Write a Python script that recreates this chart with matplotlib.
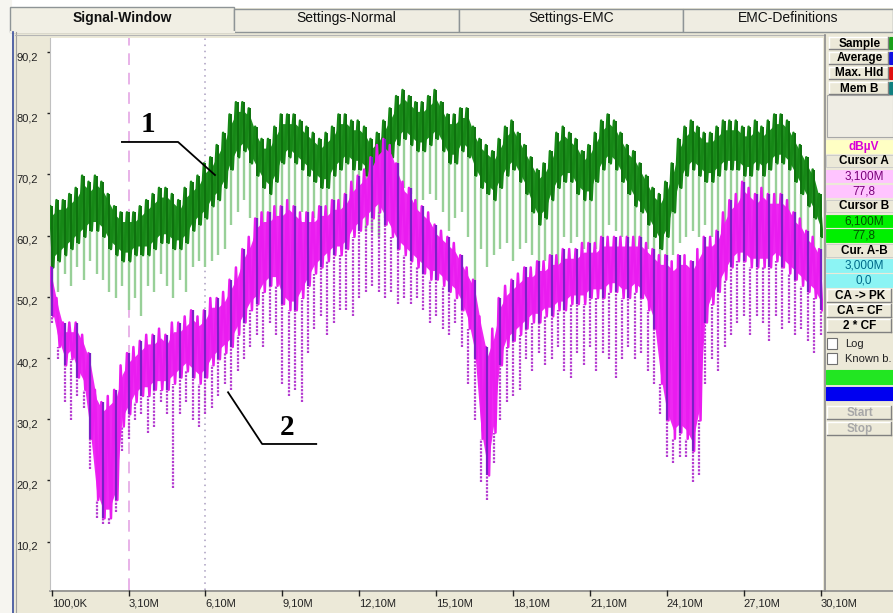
import numpy as np
import matplotlib.pyplot as plt
from matplotlib.patches import Rectangle

plt.rcParams['font.family'] = ['Liberation Sans', 'DejaVu Sans']

# sweep 100 kHz ... 30.1 MHz, 121 bins of 250 kHz
f_start, f_stop, n_bins = 0.1, 30.1, 121
freq = np.linspace(f_start, f_stop, n_bins)

# trace 1 (green): top / bottom of the dense band and tips of the dips, dBuV
green_hi = np.array([
    65, 66, 66, 67, 68, 70, 69, 70, 69, 67,
    65, 64, 64, 64, 65, 66, 67, 68, 68, 67,
    66, 68, 69, 70, 72, 73, 75, 77, 80, 82,
    82, 81, 78, 76, 76, 78, 80, 80, 80, 79,
    78, 77, 76, 77, 78, 80, 80, 79, 79, 78,
    76, 77, 79, 81, 83, 84, 83, 82, 82, 83,
    84, 82, 80, 80, 81, 81, 78, 76, 75, 74,
    76, 78, 79, 77, 75, 73, 71, 72, 74, 77,
    78, 77, 76, 74, 75, 77, 79, 80, 79, 77,
    75, 74, 72, 70, 68, 67, 69, 72, 76, 78,
    79, 78, 77, 77, 78, 79, 79, 79, 78, 78,
    79, 78, 79, 80, 80, 79, 77, 75, 73, 71, 67])
green_lo = np.array([
    55, 56, 57, 58, 59, 60, 61, 61, 60, 58,
    57, 56, 56, 57, 57, 57, 58, 59, 59, 58,
    58, 59, 61, 62, 63, 65, 66, 68, 71, 73,
    74, 72, 70, 68, 67, 69, 72, 73, 72, 71,
    70, 69, 68, 68, 70, 71, 72, 71, 71, 70,
    68, 68, 71, 73, 75, 76, 75, 74, 74, 75,
    76, 74, 72, 72, 74, 73, 70, 68, 67, 66,
    68, 70, 71, 69, 67, 64, 62, 63, 66, 68,
    69, 69, 67, 66, 66, 69, 71, 72, 71, 69,
    67, 65, 64, 62, 60, 58, 60, 64, 68, 70,
    71, 70, 69, 69, 70, 71, 71, 71, 70, 70,
    71, 70, 71, 72, 72, 71, 69, 67, 65, 63, 60])
green_min = np.array([
    50, 51, 54, 52, 55, 53, 56, 54, 53, 51,
    50, 52, 48, 50, 47, 52, 51, 54, 52, 50,
    53, 51, 55, 56, 55, 56, 57, 58, 62, 64,
    66, 63, 61, 60, 62, 61, 63, 62, 63, 64,
    62, 63, 60, 62, 64, 62, 65, 63, 64, 61,
    61, 60, 63, 65, 67, 68, 67, 64, 66, 67,
    66, 64, 61, 63, 64, 60, 53, 58, 55, 57,
    58, 59, 56, 58, 59, 57, 55, 56, 57, 55,
    60, 59, 60, 58, 59, 58, 60, 62, 61, 60,
    59, 58, 57, 58, 56, 55, 56, 57, 59, 60,
    61, 60, 62, 60, 61, 62, 63, 62, 61, 62,
    63, 61, 62, 63, 62, 63, 61, 59, 58, 56, 53])

# trace 2 (magenta)
mag_hi = np.array([
    55, 50, 46, 46, 46, 44, 41, 35, 33, 34,
    35, 39, 41, 42, 43, 44, 44, 45, 44, 46,
    46, 47, 48, 47, 48, 50, 50, 51, 53, 55,
    58, 60, 63, 64, 64, 65, 65, 66, 65, 64,
    64, 64, 65, 65, 66, 66, 67, 69, 70, 71,
    73, 75, 76, 75, 72, 69, 68, 66, 65, 64,
    62, 61, 60, 59, 57, 55, 53, 47, 42, 45,
    50, 52, 53, 54, 55, 55, 56, 56, 57, 57,
    58, 58, 58, 59, 59, 59, 60, 60, 60, 60,
    60, 60, 60, 59, 58, 57, 57, 56, 57, 57,
    56, 58, 60, 60, 61, 64, 66, 67, 69, 68,
    67, 68, 67, 67, 67, 66, 64, 63, 61, 60, 58])
mag_lo = np.array([
    47, 42, 39, 40, 37, 35, 27, 17, 14, 14,
    17, 29, 31, 33, 34, 34, 35, 35, 35, 36,
    37, 38, 37, 36, 37, 39, 40, 41, 42, 44,
    46, 48, 49, 51, 52, 52, 49, 48, 48, 50,
    52, 54, 55, 56, 57, 57, 58, 60, 61, 62,
    63, 64, 62, 60, 58, 57, 56, 55, 54, 53,
    53, 52, 51, 50, 48, 45, 40, 27, 21, 28,
    39, 42, 43, 44, 45, 46, 46, 47, 47, 48,
    48, 49, 49, 49, 50, 50, 50, 51, 51, 50,
    50, 51, 50, 48, 45, 36, 30, 27, 28, 27,
    25, 30, 46, 49, 51, 53, 55, 56, 56, 55,
    55, 55, 55, 56, 55, 54, 53, 52, 51, 50, 48])
mag_min = np.array([
    46, 40, 33, 30, 34, 32, 22, 14, 13, 13,
    15, 25, 27, 30, 31, 28, 29, 33, 31, 19,
    31, 33, 30, 29, 31, 32, 34, 36, 35, 38,
    40, 42, 44, 42, 46, 44, 36, 34, 35, 33,
    41, 45, 47, 44, 46, 48, 48, 47, 50, 51,
    52, 51, 50, 51, 49, 50, 49, 50, 48, 46,
    47, 45, 44, 46, 42, 36, 30, 20, 17, 23,
    30, 33, 34, 35, 40, 38, 41, 39, 40, 42,
    38, 37, 41, 39, 42, 38, 41, 40, 37, 40,
    42, 40, 41, 38, 36, 31, 24, 23, 24, 24,
    20, 21, 36, 40, 38, 42, 44, 46, 47, 44,
    47, 46, 43, 47, 45, 46, 44, 45, 43, 41, 44])

y_ticks = [10.2, 20.2, 30.2, 40.2, 50.2, 60.2, 70.2, 80.2, 90.2]
y_labels = ['10,2', '20,2', '30,2', '40,2', '50,2', '60,2', '70,2', '80,2', '90,2']
x_ticks = [0.1, 3.1, 6.1, 9.1, 12.1, 15.1, 18.1, 21.1, 24.1, 27.1, 30.1]
x_labels = ['100,0K', '3,10M', '6,10M', '9,10M', '12,10M', '15,10M',
            '18,10M', '21,10M', '24,10M', '27,10M', '30,10M']

cursor_a, cursor_b = 3.1, 6.1

tab_names = ['Signal-Window', 'Settings-Normal', 'Settings-EMC', 'EMC-Definitions']
tab_edges = [10, 234, 459, 683, 893]

trace_buttons = ['Sample', 'Average', 'Max. Hld', 'Mem B']
trace_colors = ['#19a019', '#1010e0', '#e01010', '#108080']

# readout column: (text, background, text colour, bold)
readouts = [
    ('dB\u00b5V', '#ffffc4', '#d800d8', True),
    ('Cursor A', '#ece9d8', 'black', True),
    ('3,100M', '#ffc4ff', '#7a007a', False),
    ('77,8', '#ffc4ff', '#7a007a', False),
    ('Cursor B', '#ece9d8', 'black', True),
    ('6,100M', '#00f000', '#005000', False),
    ('77,8', '#00f000', '#005000', False),
    ('Cur. A-B', '#ece9d8', 'black', True),
    ('3,000M', '#8cf4f4', '#006a8a', False),
    ('0,0', '#8cf4f4', '#006a8a', False),
]
cursor_buttons = ['CA -> PK', 'CA = CF', '2 * CF']
checkboxes = ['Log', 'Known b.']

W, H = 893, 613
BEIGE = '#ece9d8'
fig = plt.figure(figsize=(W / 100, H / 100), dpi=100)
fig.patch.set_facecolor(BEIGE)

# window chrome, drawn in pixel coordinates
bg = fig.add_axes([0, 0, 1, 1])
bg.set_xlim(0, W)
bg.set_ylim(H, 0)
bg.axis('off')


def box(x, y, w, h, face, edge=None, lw=0.8):
    bg.add_patch(Rectangle((x, y), w, h, facecolor=face,
                           edgecolor=edge if edge else face, lw=lw))


def button(x, y, w, h, label, color='black'):
    box(x, y, w, h, BEIGE)
    bg.plot([x, x + w], [y, y], color='white', lw=1)
    bg.plot([x, x], [y, y + h], color='white', lw=1)
    bg.plot([x, x + w], [y + h, y + h], color='#808080', lw=1)
    bg.plot([x + w, x + w], [y, y + h], color='#808080', lw=1)
    bg.text(x + w / 2 + 1, y + h / 2 + 0.5, label, ha='center', va='center',
            fontsize=8.5, weight='bold', color=color)


box(0, 0, W, 7, 'white')
box(0, 0, 11, H, '#f6f5f0')

# tabs
for i, name in enumerate(tab_names):
    x0, x1 = tab_edges[i], tab_edges[i + 1]
    active = i == 0
    top = 7 if active else 9
    box(x0, top, x1 - x0, 32 - top, '#efede2' if not active else '#f1efe4',
        edge='#8e9496', lw=1)
    bg.text((x0 + x1) / 2, 18, name, ha='center', va='center', fontsize=10,
            weight='bold' if active else 'normal', color='#111111')
bg.plot([11, 234], [32, 32], color='#f1efe4', lw=1.5)

# page frame
bg.plot([13, 13], [32, H], color='#3a4f9e', lw=1.2)
bg.plot([15.5, 15.5], [32, H], color='#a0a0a0', lw=0.8)
bg.plot([15, 825], [35, 35], color='#b4b4b4', lw=0.8)
bg.plot([50, W], [590.8, 590.8], color='#8c8c8c', lw=1.2)
bg.plot([824.6, 824.6], [35, 591], color='#8c8c8c', lw=1.2)

# trace selector buttons with their colour marks
for k, (name, col) in enumerate(zip(trace_buttons, trace_colors)):
    y = 37 + 15 * k
    button(829, y, 59, 12, name)
    box(889, y, 4, 12, col)
box(827, 95, 66, 42, '#efede4', edge='#a8a8a8', lw=0.8)

# cursor readouts
for k, (txt, face, col, bold) in enumerate(readouts):
    y = 140 + 14.9 * k
    box(826, y, 67, 12.5, face, edge='#c8c8c8' if face == BEIGE else face, lw=0.6)
    bg.text(864, y + 6.6, txt, ha='center', va='center', fontsize=8.5,
            weight='bold' if bold else 'normal', color=col)
for k, name in enumerate(cursor_buttons):
    button(827, 289 + 15 * k, 64, 12.5, name)
for k, name in enumerate(checkboxes):
    y = 338 + 15 * k
    box(827, y, 10, 11, 'white', edge='#707070', lw=0.8)
    bg.text(845, y + 6, name, ha='left', va='center', fontsize=8, color='#222222')
box(826, 370, 67, 14, '#22e622')
box(826, 387, 67, 13, '#0000f0')
for k, name in enumerate(['Start', 'Stop']):
    button(827, 406 + 16 * k, 64, 13, name, color='#a8a8a8')

# spectrum display
ax = fig.add_axes([50 / W, (H - 590) / H, (823 - 50) / W, (590 - 38) / H])
ax.set_facecolor('white')
ax.set_xlim(0.034, 30.19)
ax.set_ylim(2.29, 92.49)
for side in ['top', 'right', 'bottom']:
    ax.spines[side].set_visible(False)
ax.spines['left'].set_color('#c0c0c0')

ax.set_yticks(y_ticks, y_labels)
ax.set_xticks(x_ticks, x_labels)
ax.tick_params(axis='y', direction='out', length=2.2, width=1, pad=6.5,
               labelsize=8, colors='#222222')
ax.tick_params(axis='x', direction='out', length=4.3, width=1, pad=1.5,
               labelsize=8, colors='#222222')
for lbl in ax.get_yticklabels():
    lbl.set_va('top')
for lbl in ax.get_xticklabels():
    lbl.set_ha('left')

# cursors
ax.axvline(cursor_a, color='#e8b2e8', lw=1.4, ls=(0, (6, 4)), zorder=1)
ax.axvline(cursor_b, color='#aa9ec0', lw=1.1, ls=(0, (1, 3)), zorder=1)

# zig-zag through the band edges gives the sweep its ragged look
half = (freq[1] - freq[0]) / 2
zig_f = np.column_stack([freq - half / 2, freq + half / 2]).ravel()

# trace 1
ax.vlines(freq, green_min, green_lo, color='#98d098', lw=1.7, zorder=2)
ax.fill_between(freq, green_lo + 1.5, green_hi - 1.5, color='#1f8f1f', lw=0, zorder=3)
ax.plot(zig_f, np.column_stack([green_hi, green_lo]).ravel(),
        color='#168816', lw=1.8, zorder=3)
ax.vlines(freq, green_lo, green_hi, color='#0e720e', lw=1.4, zorder=3)

# trace 2
ax.vlines(freq, mag_min, mag_lo, color='#b43ad0', lw=1.6, ls=(0, (1, 0.6)), zorder=4)
ax.fill_between(freq, mag_lo + 1.5, mag_hi - 1.5, color='#ee28f2', lw=0, zorder=5)
ax.plot(zig_f, np.column_stack([mag_hi, mag_lo]).ravel(),
        color='#ea1cf0', lw=1.8, zorder=5)
ax.vlines(freq[::2], mag_lo[::2], mag_hi[::2], color='#7a20c6', lw=1.6, zorder=6)

# trace markers
ax.plot([2.84, 5.03, 6.47], [75.5, 75.5, 70.1], color='black', lw=1.3, zorder=7)
ax.text(3.86, 78.3, '1', ha='center', va='center', fontsize=21, weight='bold',
        family='Liberation Serif', zorder=7)
ax.plot([6.98, 8.31, 10.42], [34.6, 26.15, 26.15], color='black', lw=1.3, zorder=7)
ax.text(9.28, 28.8, '2', ha='center', va='center', fontsize=21, weight='bold',
        family='Liberation Serif', zorder=7)

fig.savefig('out.png', dpi=100, facecolor=fig.get_facecolor())
